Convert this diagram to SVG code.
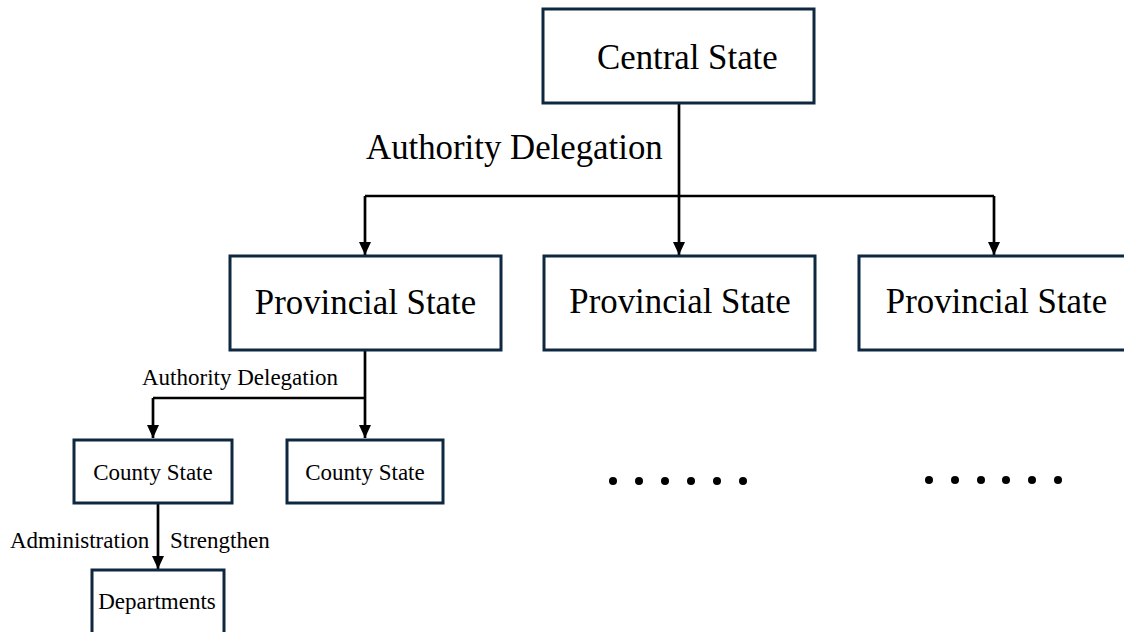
<svg xmlns="http://www.w3.org/2000/svg" width="1124" height="632" viewBox="0 0 1124 632">
  <defs>
    <marker id="arrow" markerUnits="userSpaceOnUse" markerWidth="13" markerHeight="13" viewBox="0 0 13 13" refX="13" refY="6.5" orient="auto">
      <path d="M0,0.5 L13,6.5 L0,12.5 Z" fill="#000"/>
    </marker>
    <style>
      .box { fill: #fff; stroke: #0e2841; stroke-width: 3; }
      .wire { fill: none; stroke: #000; stroke-width: 2.7; }
      .arr { marker-end: url(#arrow); }
      text { font-family: "Liberation Serif", "Times New Roman", serif; fill: #000; }
      .big { font-size: 34.8px; }
      .small { font-size: 23px; }
      .mid { text-anchor: middle; }
    </style>
  </defs>

  <rect width="1124" height="632" fill="#fff"/>

  <!-- connectors -->
  <g id="connectors">
    <path class="wire" d="M679,103 V196"/>
    <path class="wire" d="M365,196 H994"/>
    <path class="wire arr" d="M365,196 V255"/>
    <path class="wire arr" d="M679,196 V255"/>
    <path class="wire arr" d="M994,196 V255"/>
    <path class="wire arr" d="M365,350 V438"/>
    <path class="wire" d="M153,398 H365"/>
    <path class="wire arr" d="M153,398 V438"/>
    <path class="wire arr" d="M158,503 V569"/>
  </g>

  <!-- connector labels -->
  <g id="labels">
    <text class="big" x="366" y="159">Authority Delegation</text>
    <text class="small" x="142" y="385">Authority Delegation</text>
    <text class="small" x="10" y="548">Administration</text>
    <text class="small" x="170" y="548">Strengthen</text>
  </g>

  <g id="central">
    <rect class="box" x="543" y="9" width="271" height="94"/>
    <text class="big" x="597" y="69">Central State</text>
  </g>

  <g id="province-1">
    <rect class="box" x="230" y="256" width="271" height="94"/>
    <text class="big mid" x="365.5" y="314">Provincial State</text>
  </g>

  <g id="province-2">
    <rect class="box" x="544" y="256" width="271" height="94"/>
    <text class="big mid" x="680" y="313">Provincial State</text>
  </g>

  <g id="province-3">
    <rect class="box" x="859" y="256" width="275" height="94"/>
    <text class="big mid" x="996.5" y="313">Provincial State</text>
  </g>

  <g id="county-1">
    <rect class="box" x="74" y="440" width="158" height="63"/>
    <text class="small mid" x="153" y="480">County State</text>
  </g>

  <g id="county-2">
    <rect class="box" x="287" y="440" width="156" height="63"/>
    <text class="small mid" x="365" y="480">County State</text>
  </g>

  <g id="departments">
    <rect class="box" x="92" y="570" width="132" height="70"/>
    <text class="small mid" x="157" y="609">Departments</text>
  </g>

  <!-- ellipses for further branches -->
  <g id="more-2" fill="#000">
    <circle cx="613" cy="481" r="4"/>
    <circle cx="639" cy="481" r="4"/>
    <circle cx="665" cy="481" r="4"/>
    <circle cx="691" cy="481" r="4"/>
    <circle cx="717" cy="481" r="4"/>
    <circle cx="743" cy="481" r="4"/>
  </g>
  <g id="more-3" fill="#000">
    <circle cx="929" cy="480" r="4"/>
    <circle cx="955" cy="480" r="4"/>
    <circle cx="981" cy="480" r="4"/>
    <circle cx="1006" cy="480" r="4"/>
    <circle cx="1032" cy="480" r="4"/>
    <circle cx="1058" cy="480" r="4"/>
  </g>
</svg>
